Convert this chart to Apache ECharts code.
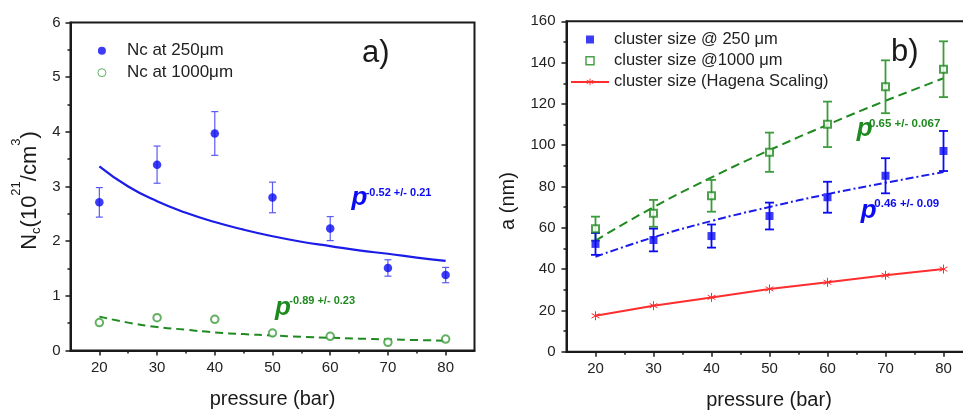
<!DOCTYPE html>
<html>
<head>
<meta charset="utf-8">
<script src="https://cdn.jsdelivr.net/npm/echarts@6/dist/echarts.min.js"></script>
<style>
  html, body { margin: 0; padding: 0; background: #fff; }
  #chart { width: 963px; height: 412px; }
</style>
</head>
<body>
<div id="chart"></div>
<script>
// Pressure values (bar) at which the measurements were taken
const pressure = [20, 30, 40, 50, 60, 70, 80];

// Panel a) cluster density Nc (10^21 / cm^3)
const nc250 = [2.71, 3.40, 3.97, 2.80, 2.23, 1.51, 1.38];
const nc250Err = [0.27, 0.34, 0.40, 0.28, 0.22, 0.15, 0.14];
const nc1000 = [0.51, 0.60, 0.57, 0.32, 0.26, 0.15, 0.21];

// Power-law fit curves for panel a)
const fitPressureA = [20, 25, 30, 35, 40, 45, 50, 55, 60, 65, 70, 75, 80];
const nc250Fit = [3.37, 3.00, 2.73, 2.52, 2.35, 2.21, 2.09, 1.99, 1.91, 1.83, 1.77, 1.70, 1.64];
const nc1000Fit = [0.62, 0.51, 0.43, 0.38, 0.33, 0.30, 0.275, 0.25, 0.233, 0.217, 0.203, 0.191, 0.18];

// Panel b) cluster size a (nm)
const size250 = [52.2, 54.1, 56.0, 65.7, 74.8, 85.2, 97.2];
const size250Err = [5.3, 5.5, 5.6, 6.5, 7.5, 8.5, 9.7];
const size1000 = [59.6, 67.0, 75.5, 96.6, 110.1, 128.3, 136.8];
const size1000Err = [5.8, 6.5, 7.7, 9.5, 11.0, 12.8, 13.5];
const hagena = [17.4, 22.3, 26.3, 30.4, 33.6, 37.0, 40.0];

// Power-law fit curves for panel b)
const size1000Fit = [53.8, 70.0, 84.4, 97.6, 109.9, 121.5, 132.4];
const size250Fit = [46.0, 55.4, 63.3, 70.1, 76.3, 81.8, 87.0];

// Axis tick values
const xMajorTicks = [20, 30, 40, 50, 60, 70, 80];
const xMinorTicks = [25, 35, 45, 55, 65, 75];

// Legend / series names
const nameA1 = 'Nc at 250μm';
const nameA2 = 'Nc at 1000μm';
const nameB1 = 'cluster size @ 250 μm';
const nameB2 = 'cluster size @1000 μm';
const nameB3 = 'cluster size (Hagena Scaling)';

const FONT = "'Liberation Sans', Arial, Helvetica, sans-serif";
const INK = '#1a1a1a';
const BLUE = '#0b0bf2';
const BLUE_FIT = '#1c1ce8';
const BLUE_ERR = '#5a5af4';
const GREEN = '#1f8a1f';
const GREEN_MARK = '#3c9c3c';
const RED = '#ff2d2d';

const asterisk = 'path://M5,0 L5,10 M0.67,2.5 L9.33,7.5 M0.67,7.5 L9.33,2.5';
const squarePath = 'path://M0,0 H10 V10 H0 Z';
const circlePath = 'path://M0,5 A5,5 0 1,0 10,5 A5,5 0 1,0 0,5 Z';

const pairs = (xs, ys) => xs.map((x, i) => [x, ys[i]]);
const errRows = (vals, errs) => pressure.map((p, i) => [p, vals[i] - errs[i], vals[i] + errs[i]]);

function errorBars(capHalf, width, color) {
  return function (params, api) {
    const x = api.value(0);
    const lo = api.coord([x, api.value(1)]);
    const hi = api.coord([x, api.value(2)]);
    const style = { stroke: color, lineWidth: width };
    return {
      type: 'group',
      children: [
        { type: 'line', shape: { x1: lo[0], y1: lo[1], x2: hi[0], y2: hi[1] }, style },
        { type: 'line', shape: { x1: lo[0] - capHalf, y1: lo[1], x2: lo[0] + capHalf, y2: lo[1] }, style },
        { type: 'line', shape: { x1: hi[0] - capHalf, y1: hi[1], x2: hi[0] + capHalf, y2: hi[1] }, style }
      ]
    };
  };
}

function mainX(gridIndex) {
  return {
    type: 'value', gridIndex, min: 15, max: 85, interval: 5,
    axisLine: { show: true, onZero: false, lineStyle: { color: INK, width: 2 } },
    axisTick: { show: true, inside: false, length: 5, customValues: xMajorTicks, lineStyle: { color: INK, width: 1.5 } },
    axisLabel: { show: true, customValues: xMajorTicks, margin: 10, fontSize: 15, color: '#222', fontFamily: FONT },
    splitLine: { show: false }
  };
}
function minorX(gridIndex) {
  return {
    type: 'value', gridIndex, min: 15, max: 85, interval: 5, position: 'bottom',
    axisLine: { show: false },
    axisTick: { show: true, inside: false, length: 3, customValues: xMinorTicks, lineStyle: { color: INK, width: 1.5 } },
    axisLabel: { show: false },
    splitLine: { show: false }
  };
}
function yAxis(gridIndex, max, interval, margin) {
  return {
    type: 'value', gridIndex, min: 0, max, interval,
    axisLine: { show: true, onZero: false, lineStyle: { color: INK, width: 2 } },
    axisTick: { show: true, inside: false, length: 5, lineStyle: { color: INK, width: 1.5 } },
    minorTick: { show: true, splitNumber: 2, length: 3, lineStyle: { color: INK, width: 1.5 } },
    axisLabel: { margin, fontSize: 15, color: '#222', fontFamily: FONT },
    splitLine: { show: false }
  };
}

function txt(x, y, text, size, color, extra) {
  return {
    type: 'text', x, y, z: 100,
    style: Object.assign({
      text, fill: color, fontSize: size, fontFamily: FONT,
      align: 'left', verticalAlign: 'middle'
    }, extra || {})
  };
}
function pLetter(x, y, color) {
  return txt(x, y, 'p', 26, color, { fontStyle: 'italic', fontWeight: 'bold' });
}
function expo(x, y, text, size, color) {
  return txt(x, y, text, size, color, { fontWeight: 'bold' });
}

const chart = echarts.init(document.getElementById('chart'), null, { renderer: 'canvas' });

const option = {
  backgroundColor: '#fff',
  animation: false,
  grid: [
    { left: 70.5, top: 22.5, width: 404, height: 328, show: true, borderColor: INK, borderWidth: 2,
      backgroundColor: 'transparent', containLabel: false, outerBoundsMode: 'none' },
    { left: 566.5, top: 21.3, width: 406, height: 330.4, show: true, borderColor: INK, borderWidth: 2,
      backgroundColor: 'transparent', containLabel: false, outerBoundsMode: 'none' }
  ],
  xAxis: [mainX(0), mainX(1), minorX(0), minorX(1)],
  yAxis: [yAxis(0, 6, 1, 10), yAxis(1, 160, 20, 11)],
  legend: [
    {
      orient: 'vertical', left: 97.4, top: 42.2, padding: 0, itemGap: 5,
      itemWidth: 40, itemHeight: 8, selectedMode: false,
      textStyle: { fontSize: 17, color: '#222', fontFamily: FONT },
      data: [
        { name: nameA1, icon: 'circle', itemStyle: { color: BLUE } },
        { name: nameA2, icon: circlePath, itemStyle: { color: '#fff', borderColor: GREEN_MARK, borderWidth: 1 } }
      ]
    },
    {
      orient: 'vertical', left: 570, top: 31, padding: 0, itemGap: 4.2,
      itemWidth: 38, itemHeight: 8, selectedMode: false,
      textStyle: { fontSize: 16.5, color: '#222', fontFamily: FONT },
      data: [
        { name: nameB1, icon: squarePath, itemStyle: { color: BLUE } },
        { name: nameB2, icon: squarePath, itemStyle: { color: '#fff', borderColor: GREEN, borderWidth: 1.5 } },
        { name: nameB3, itemStyle: { color: RED, borderColor: RED, borderWidth: 1 } }
      ]
    }
  ],
  series: [
    // ---- panel a) ----
    { type: 'line', name: 'fitA1', xAxisIndex: 0, yAxisIndex: 0, data: pairs(fitPressureA, nc250Fit),
      smooth: true, showSymbol: false, symbol: 'none', lineStyle: { color: BLUE_FIT, width: 2.2 }, z: 2 },
    { type: 'line', name: 'fitA2', xAxisIndex: 0, yAxisIndex: 0, data: pairs(fitPressureA, nc1000Fit),
      smooth: true, showSymbol: false, symbol: 'none', lineStyle: { color: GREEN, width: 2, type: [8, 5] }, z: 2 },
    { type: 'custom', name: 'errA1', xAxisIndex: 0, yAxisIndex: 0, data: errRows(nc250, nc250Err),
      encode: { x: 0, y: [1, 2] }, renderItem: errorBars(3.5, 1.2, BLUE_ERR), z: 3 },
    { type: 'scatter', name: nameA1, xAxisIndex: 0, yAxisIndex: 0, data: pairs(pressure, nc250),
      symbol: 'circle', symbolSize: 8.5, itemStyle: { color: BLUE }, z: 5 },
    { type: 'scatter', name: nameA2, xAxisIndex: 0, yAxisIndex: 0, data: pairs(pressure, nc1000),
      symbol: 'emptyCircle', symbolSize: 7.5, itemStyle: { color: GREEN_MARK, borderColor: GREEN_MARK, borderWidth: 1 }, z: 5 },

    // ---- panel b) ----
    { type: 'line', name: 'fitB2', xAxisIndex: 1, yAxisIndex: 1, data: pairs(pressure, size1000Fit),
      smooth: true, showSymbol: false, symbol: 'none', lineStyle: { color: GREEN, width: 2, type: [9, 5] }, z: 2 },
    { type: 'line', name: 'fitB1', xAxisIndex: 1, yAxisIndex: 1, data: pairs(pressure, size250Fit),
      smooth: true, showSymbol: false, symbol: 'none', lineStyle: { color: BLUE_FIT, width: 2, type: [8, 3, 2, 3] }, z: 2 },
    { type: 'custom', name: 'errB2', xAxisIndex: 1, yAxisIndex: 1, data: errRows(size1000, size1000Err),
      encode: { x: 0, y: [1, 2] }, renderItem: errorBars(4.5, 1.8, GREEN_MARK), z: 3 },
    { type: 'custom', name: 'errB1', xAxisIndex: 1, yAxisIndex: 1, data: errRows(size250, size250Err),
      encode: { x: 0, y: [1, 2] }, renderItem: errorBars(4.5, 1.8, BLUE), z: 3 },
    { type: 'scatter', name: nameB1, xAxisIndex: 1, yAxisIndex: 1, data: pairs(pressure, size250),
      symbol: 'rect', symbolSize: 8, itemStyle: { color: BLUE }, z: 5 },
    { type: 'scatter', name: nameB2, xAxisIndex: 1, yAxisIndex: 1, data: pairs(pressure, size1000),
      symbol: 'emptyRect', symbolSize: 7, itemStyle: { color: GREEN, borderColor: GREEN, borderWidth: 1.5 }, z: 5 },
    { type: 'line', name: nameB3, xAxisIndex: 1, yAxisIndex: 1, data: pairs(pressure, hagena),
      symbol: asterisk, symbolSize: 9, showSymbol: true, symbolKeepAspect: true,
      itemStyle: { color: RED, borderColor: RED, borderWidth: 1 },
      lineStyle: { color: RED, width: 2 }, z: 4 }
  ],
  graphic: [
    // panel labels
    txt(362, 53, 'a)', 31, INK),
    txt(891, 52, 'b)', 31, INK),

    // axis titles
    txt(272.5, 399, 'pressure (bar)', 20, INK, { align: 'center' }),
    txt(769, 400, 'pressure (bar)', 20, INK, { align: 'center' }),
    {
      type: 'text', x: 30.3, y: 190.5, rotation: Math.PI / 2, z: 100,
      style: {
        text: '{m|N}{b|c}{m|(10}{t|21}{m|/cm}{t|3}{m|)}',
        align: 'center', verticalAlign: 'middle', fill: INK, fontFamily: FONT,
        rich: {
          m: { fontSize: 22, lineHeight: 41, fill: INK, fontFamily: FONT },
          b: { fontSize: 13, padding: [0, 0, 8, 0], verticalAlign: 'bottom', fill: INK, fontFamily: FONT },
          t: { fontSize: 13, verticalAlign: 'top', fill: INK, fontFamily: FONT }
        }
      }
    },
    {
      type: 'text', x: 508, y: 201, rotation: Math.PI / 2, z: 100,
      style: { text: 'a (nm)', align: 'center', verticalAlign: 'middle', fill: INK, fontSize: 20, fontFamily: FONT }
    },

    // power-law exponents
    pLetter(351.5, 198.3, BLUE),
    expo(365.7, 192.8, '-0.52 +/- 0.21', 11, BLUE),
    pLetter(275, 307.7, GREEN),
    expo(289.3, 301, '-0.89 +/- 0.23', 11, GREEN),
    pLetter(856.7, 129.3, GREEN),
    expo(869, 123.5, '0.65 +/- 0.067', 11.5, GREEN),
    pLetter(860.7, 211, BLUE),
    expo(874.3, 204.3, '0.46 +/- 0.09', 11.5, BLUE)
  ]
};

chart.setOption(option);
</script>
</body>
</html>
